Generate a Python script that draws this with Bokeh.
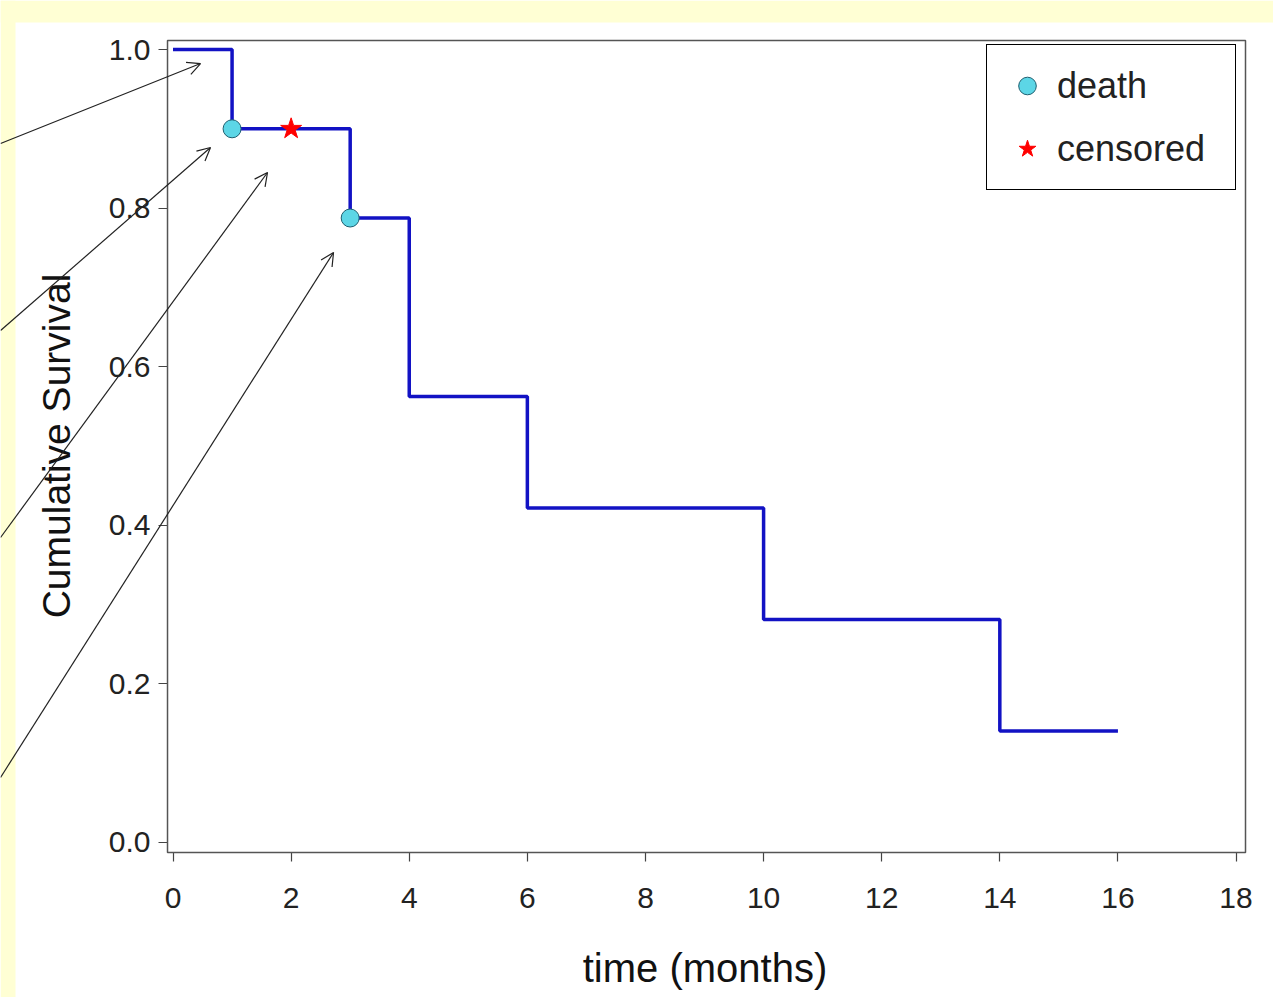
from bokeh.plotting import figure
from bokeh.models import (ColumnDataSource, Arrow, OpenHead, Legend, LegendItem,
                          FixedTicker, PrintfTickFormatter, BoxAnnotation)
from bokeh.embed import file_html
from bokeh.resources import INLINE

# ---- data ----
times = [0, 1, 3, 4, 6, 10, 14, 16]
survival = [1.0, 0.9, 0.7875, 0.5625, 0.4219, 0.2813, 0.1406, 0.1406]
death_times = [1, 3]
death_surv = [0.9, 0.7875]
censor_times = [2]
censor_surv = [0.9]
x_ticks = [0, 2, 4, 6, 8, 10, 12, 14, 16, 18]
y_ticks = [0.0, 0.2, 0.4, 0.6, 0.8, 1.0]

# pointer arrows (data coordinates)
arrow_x_start = [-2.92, -2.92, -2.92, -2.92]
arrow_y_start = [0.8815, 0.6456, 0.3846, 0.0820]
arrow_x_end = [0.466, 0.635, 1.600, 2.718]
arrow_y_end = [0.9823, 0.8764, 0.8449, 0.7440]

# plotting box (data coordinates of the drawn frame)
box_left, box_right, box_bottom, box_top = -0.093, 18.16, -0.0126, 1.0113

FONT = "Liberation Sans"
YELLOW = "#FFFFD4"

p = figure(width=1273, height=997, output_backend="svg", toolbar_location=None,
           x_range=(-2.921, 18.634), y_range=(-0.1955, 1.0618),
           min_border=0)
p.background_fill_color = "white"
p.border_fill_color = "white"
p.outline_line_color = None
p.grid.visible = False

# page margins (yellow strips at top and left)
p.add_layout(BoxAnnotation(right=-2.667, fill_color=YELLOW, fill_alpha=1,
                           line_color=None, level="underlay"))
p.add_layout(BoxAnnotation(bottom=1.034, fill_color=YELLOW, fill_alpha=1,
                           line_color=None, level="underlay"))

# axes, placed at the edges of the plotting box
p.xaxis.fixed_location = box_bottom
p.yaxis.fixed_location = box_left
p.xaxis.bounds = (x_ticks[0], x_ticks[-1])
p.yaxis.bounds = (y_ticks[0], y_ticks[-1])
p.xaxis.ticker = FixedTicker(ticks=x_ticks)
p.yaxis.ticker = FixedTicker(ticks=y_ticks)
p.yaxis.formatter = PrintfTickFormatter(format="%.1f")
for ax in (p.xaxis[0], p.yaxis[0]):
    ax.axis_line_color = None
    ax.major_tick_line_color = "#444444"
    ax.major_tick_line_width = 1.2
    ax.major_tick_out = 9
    ax.major_tick_in = 0
    ax.minor_tick_line_color = None
    ax.major_label_text_font = FONT
    ax.major_label_text_font_size = "30px"
    ax.major_label_text_color = "#222222"
    ax.axis_label_text_font = FONT
    ax.axis_label_text_font_style = "normal"
    ax.axis_label_text_color = "#111111"
p.xaxis.axis_label = "time (months)"
p.yaxis.axis_label = "Cumulative Survival"
p.xaxis.axis_label_text_font_size = "40px"
p.yaxis.axis_label_text_font_size = "39px"
p.xaxis.major_label_standoff = 27
p.yaxis.major_label_standoff = 8
p.xaxis.axis_label_standoff = 34
p.yaxis.axis_label_standoff = 28

# plotting box outline
p.add_layout(BoxAnnotation(left=box_left, right=box_right, bottom=box_bottom,
                           top=box_top, fill_alpha=0, line_color="#555555",
                           line_alpha=1, line_width=1.5, level="guide"))

# survival curve
p.step(times, survival, mode="after", line_color="#1212C4", line_width=3.5)

death = p.scatter(death_times, death_surv, marker="circle", size=18,
                  fill_color="#5CD6E6", line_color="#1F5F70", line_width=1)
cens = p.scatter(censor_times, censor_surv, marker="star", size=22,
                 fill_color="red", line_color="red", line_width=1)

# arrows
asrc = ColumnDataSource(dict(x0=arrow_x_start, y0=arrow_y_start,
                             x1=arrow_x_end, y1=arrow_y_end))
p.add_layout(Arrow(source=asrc, x_start="x0", y_start="y0", x_end="x1", y_end="y1",
                   line_color="#222222", line_width=1.2,
                   end=OpenHead(size=13, line_width=1.2, line_color="#222222")))

legend = Legend(items=[LegendItem(label="death", renderers=[death]),
                       LegendItem(label="censored", renderers=[cens])],
                location=(986, 807))
legend.margin = 0
legend.padding = 18
legend.spacing = 18
legend.glyph_width = 44
legend.glyph_height = 45
legend.label_width = 160
legend.label_standoff = 8
legend.label_text_font = FONT
legend.label_text_font_size = "36px"
legend.label_text_color = "#222222"
legend.border_line_color = "black"
legend.border_line_alpha = 1
legend.border_line_width = 1.8
legend.background_fill_color = "white"
legend.background_fill_alpha = 1
p.add_layout(legend)

open("out.html", "w").write(file_html(p, INLINE))
